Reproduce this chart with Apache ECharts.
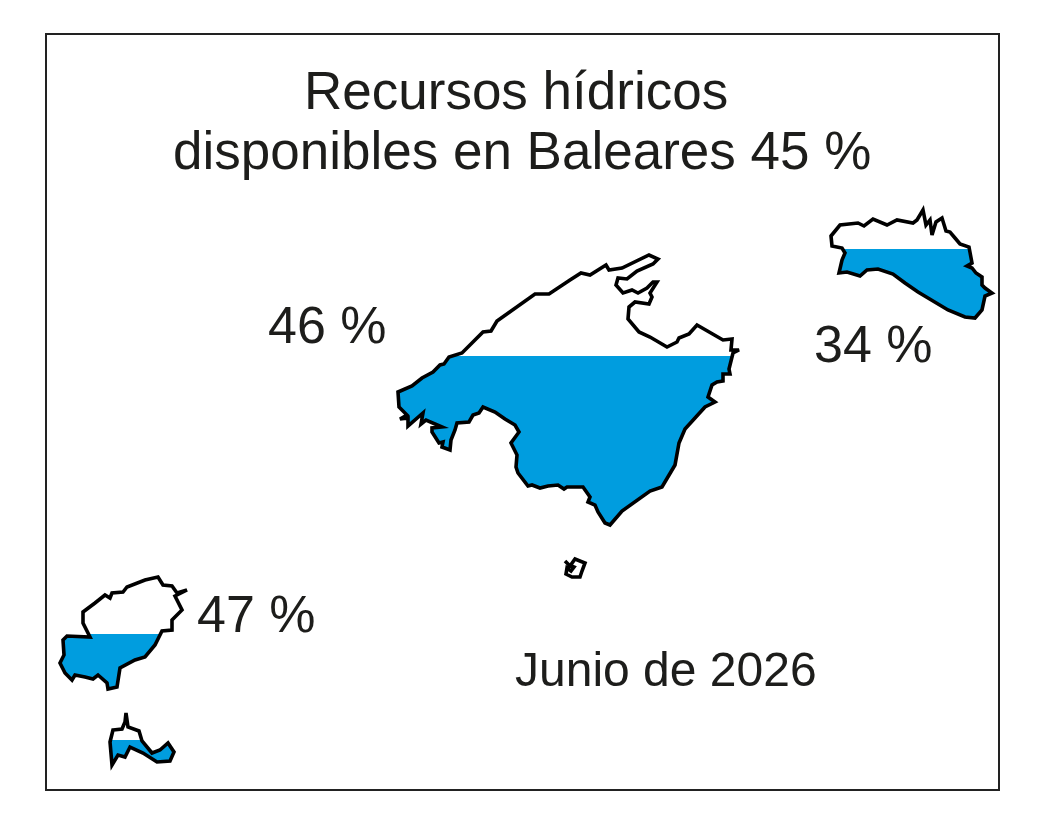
<!DOCTYPE html>
<html>
<head>
<meta charset="utf-8">
<title>Recursos hídricos Baleares</title>
<style>
html, body { margin: 0; padding: 0; background: #fff; }
#chart { width: 1056px; height: 816px; }
</style>
<script src="https://cdn.jsdelivr.net/npm/echarts@6/dist/echarts.min.js"></script>
</head>
<body>
<div id="chart"></div>
<script>
var mallorca = [398,392, 412,386, 422,378, 433,372, 440,365, 444,364, 449,357, 462,353, 483,332, 491,331, 497,321,
	535,294, 549,294, 570,280, 581,273, 590,275, 606,265, 609,270, 622,268, 649,255, 658,259, 653,264, 637,271,
	627,279, 618,278, 616,285, 623,293, 632,290, 638,293, 647,288, 653,282, 657,282, 650,293, 652,297, 649,304,
	635,302, 629,307, 628,319, 639,332, 650,337, 667,347, 677,342, 679,338, 689,334, 697,325, 723,340, 732,339,
	731,350, 739,350, 733,353, 729,369, 730,374, 723,374, 723,381, 717,382, 712,385, 708,397, 715,402, 705,407,
	685,429, 679,443, 675,465, 662,487, 650,491, 622,511, 610,525, 605,523, 598,512, 595,505, 588,502, 590,497,
	583,487, 567,487, 564,489, 558,485, 548,486, 540,488, 532,485, 528,486, 518,473, 516,467, 517,455, 511,443,
	519,432, 515,425, 505,419, 495,412, 483,407, 479,413, 473,415, 469,422, 457,423, 455,430, 451,440, 450,450,
	442,447, 443,442, 439,443, 432,432, 432,428, 442,427, 426,420, 421,424, 423,413, 408,426, 408,418, 400,419,
	407,415, 399,407];
var menorca = [831,236, 840,225, 858,223, 864,226, 873,219, 887,225, 897,220, 913,223, 917,220, 923,210, 926,225,
	930,220, 932,235, 936,222, 942,218, 946,231, 950,232, 955,238, 960,244, 969,247, 972,263, 967,266, 972,268,
	976,273, 982,277, 982,285, 985,288, 992,293, 985,296, 982,310, 975,318, 965,317, 948,310, 918,292, 905,283,
	893,274, 878,269, 867,270, 860,276, 847,272, 839,273, 842,260, 845,253, 842,248, 832,246];
var ibiza = [63,640, 67,636, 90,637, 83,623, 83,612, 95,603, 105,595, 110,598, 112,593, 123,592, 127,587, 145,580,
	158,577, 163,585, 172,586, 177,593, 187,590, 175,596, 182,610, 172,620, 172,630, 162,631, 155,645, 145,657,
	135,660, 120,668, 117,687, 108,689, 107,683, 98,675, 93,679, 85,677, 75,675, 72,680, 65,673, 60,663, 64,655];
var formentera = [113,730, 122,729, 125,722, 126,713, 128,727, 139,731, 142,741, 152,753, 160,750, 168,743, 174,752,
	170,761, 157,762, 143,753, 130,747, 125,757, 118,755, 112,765, 110,742];
var cabrera = [565,561, 570,566, 575,559, 585,563, 582,571, 580,577, 572,577, 566,574, 567,568, 571,571, 574,567, 569,565];

var outlines = [mallorca, menorca, ibiza, formentera, cabrera];
// height of the water surface drawn on each island, in map units (Cabrera has none)
var waterLevels = [356, 249, 634, 740, null];

var titleLines = ["Recursos hídricos", "disponibles en Baleares 45 %"];
var percentLabels = ["46 %", "34 %", "47 %"];
var dateLabel = "Junio de 2026";

var FONT = '"Liberation Sans", Arial, sans-serif';
var INK = "#1d1d1b";
var WATER = "#009ddf";

function textItem(text, x, y, size)
{
	return {
		type: "text",
		left: x,
		top: y,
		style: { text: text, font: size + "px " + FONT, fill: INK }
	};
}

function renderIsland(params, api)
{
	var outline = outlines[api.value(0)];
	var level = waterLevels[api.value(0)];
	var points = [];

	for(var i=0; i<outline.length; i+=2)
		points.push(api.coord([outline[i], outline[i+1]]));

	var children = [];

	if(level != null)
	{
		var top = api.coord([0, level])[1];

		children.push({
			type: "polygon",
			shape: { points: points },
			style: { fill: WATER, stroke: null },
			clipPath: { type: "rect", shape: { x: 0, y: top, width: 1056, height: 816 - top } }
		});
	}

	children.push({
		type: "polygon",
		shape: { points: points },
		style: { fill: "none", stroke: "#000", lineWidth: 3.6, lineJoin: "miter", miterLimit: 4 }
	});

	return { type: "group", children: children };
}

var chart = echarts.init(document.getElementById("chart"), null, { renderer: "canvas" });

chart.setOption({
	backgroundColor: "#fff",
	animation: false,
	grid: { left: 46, top: 34, right: 57, bottom: 26, show: true, borderColor: "#222", borderWidth: 2, backgroundColor: "#fff" },
	xAxis: { type: "value", min: 46, max: 999, show: false },
	yAxis: { type: "value", min: 34, max: 790, inverse: true, show: false },
	series: [{
		type: "custom",
		coordinateSystem: "cartesian2d",
		clip: false,
		silent: true,
		encode: { x: 0 },
		data: outlines.map(function(d, i) { return [i]; }),
		renderItem: renderIsland
	}],
	graphic: [
		textItem(titleLines[0], 304, 68, 53),
		textItem(titleLines[1], 173, 128, 53),
		textItem(percentLabels[0], 268, 303, 52),
		textItem(percentLabels[1], 814, 322, 52),
		textItem(percentLabels[2], 197, 592, 52),
		textItem(dateLabel, 515, 649, 48)
	]
});
</script>
</body>
</html>
